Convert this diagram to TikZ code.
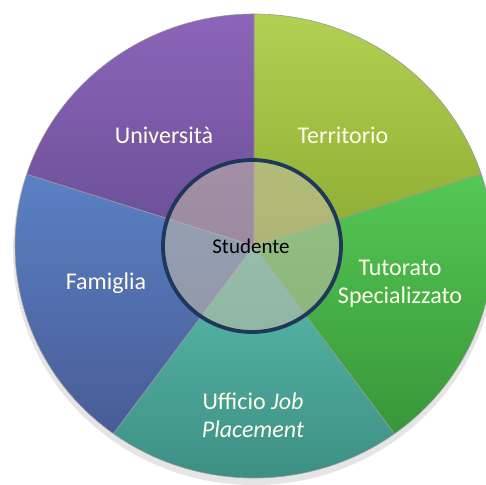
\documentclass[tikz,border=0pt]{standalone}
\usepackage{fontspec}
\setmainfont{Carlito}
\definecolor{terT}{RGB}{178,208,82}\definecolor{terB}{RGB}{140,172,50}
\definecolor{uniT}{RGB}{140,100,185}\definecolor{uniB}{RGB}{105,78,150}
\definecolor{famT}{RGB}{90,128,196}\definecolor{famB}{RGB}{72,92,150}
\definecolor{uffT}{RGB}{88,190,172}\definecolor{uffB}{RGB}{60,140,130}
\definecolor{tutT}{RGB}{84,200,84}\definecolor{tutB}{RGB}{56,150,56}
\definecolor{ctrfill}{RGB}{200,190,170}
\definecolor{ctrline}{RGB}{30,55,90}
\begin{document}
\begin{tikzpicture}[x=1pt,y=1pt,
  seg/.style={draw=white!60!black, line width=0.6pt},
  lbl/.style={text=white!92!yellow, font=\fontsize{24}{28}\selectfont, align=center}]
\useasboundingbox (0,0) rectangle (486,484);
\clip (0,0) rectangle (486,484);
\def\R{232}
\begin{scope}[shift={(254,238)}, xscale=1.03]
\coordinate (C) at (0,0);
% soft shadow
\fill[black, opacity=0.10] (0,-5) circle (234);
% Territorio
\shade[seg, top color=terT, bottom color=terB, shift={(54:4)}]
  (C) -- ++(18:\R) arc[start angle=18, end angle=90, radius=\R] -- cycle;
% Università
\shade[seg, top color=uniT, bottom color=uniB, shift={(126:4)}]
  (C) -- ++(90:\R) arc[start angle=90, end angle=162, radius=\R] -- cycle;
% Famiglia
\shade[seg, top color=famT, bottom color=famB, shift={(198:4)}]
  (C) -- ++(162:\R) arc[start angle=162, end angle=234, radius=\R] -- cycle;
% Ufficio
\shade[seg, top color=uffT, bottom color=uffB, shift={(270:4)}]
  (C) -- ++(234:\R) arc[start angle=234, end angle=306, radius=\R] -- cycle;
% Tutorato
\shade[seg, top color=tutT, bottom color=tutB, shift={(342:4)}]
  (C) -- ++(306:\R) arc[start angle=306, end angle=378, radius=\R] -- cycle;
\end{scope}
% labels
\node[lbl] (uni) at (164,349) {Università};
\node[lbl] (ter) at (343,349) {Territorio};
\node[lbl] (tut) at (400,200) {Tutorato\\Specializzato};
\node[lbl] (fam) at (106,201) {Famiglia};
\node[lbl] (uff) at (253,69) {Ufficio \textit{Job}\\\textit{Placement}};
% centre
\coordinate (S) at (252,238);
\fill[ctrfill, opacity=0.55] (S) ellipse[x radius=89, y radius=86];
\draw[ctrline, line width=3.8pt] (S) ellipse[x radius=89, y radius=86];
\node[font=\fontsize{21}{24}\selectfont, text=black] (stu) at (251,238) {Studente};
\end{tikzpicture}
\end{document}
